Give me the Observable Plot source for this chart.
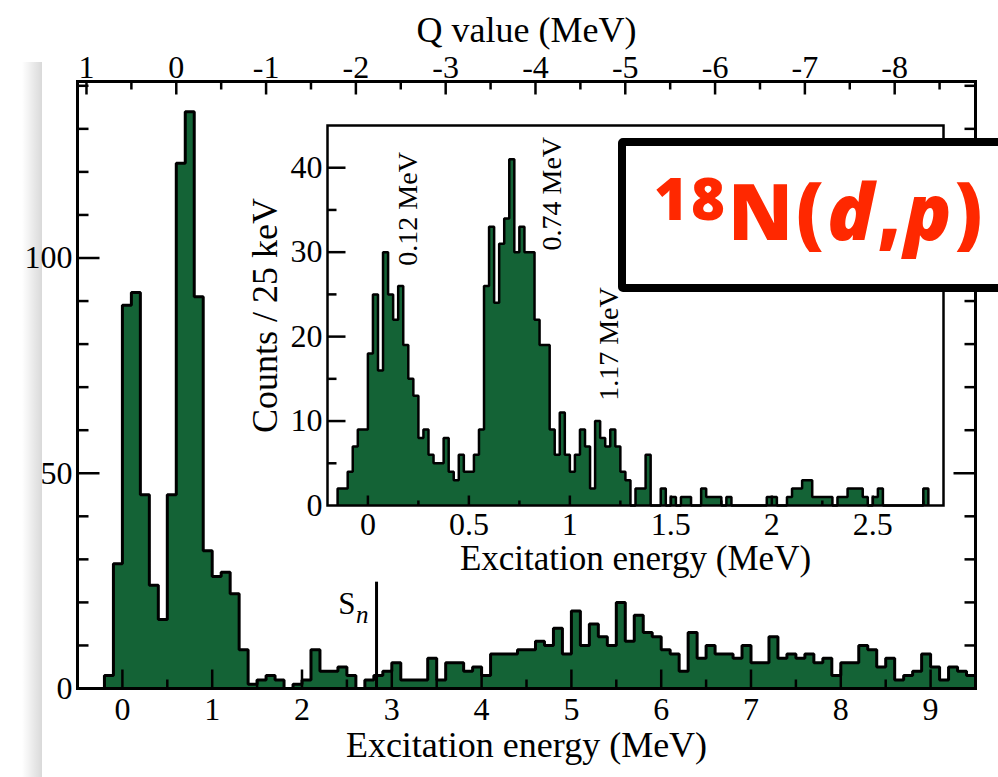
<!DOCTYPE html>
<html><head><meta charset="utf-8">
<script src="https://cdn.jsdelivr.net/npm/d3@7"></script>
<script src="https://cdn.jsdelivr.net/npm/@observablehq/plot@0.6"></script>
<style>
html,body{margin:0;padding:0;background:#fff;overflow:hidden;}
#wrap{position:relative;width:998px;height:777px;overflow:hidden;}
#shadow{position:absolute;left:22px;top:62px;width:20px;height:715px;background:linear-gradient(to right, rgba(0,0,0,0), rgba(0,0,0,0.15));}
#main{position:absolute;left:0;top:0;width:998px;height:777px;}
#inset{position:absolute;left:220px;top:100px;width:740px;height:480px;}
#tag{position:absolute;left:618px;top:138px;width:420px;height:154px;box-sizing:border-box;border:8px solid #000;border-radius:5px;background:#fff;}
#tagtext{position:absolute;left:28px;top:13px;font-family:"Open Sans",Lato,sans-serif;font-weight:800;font-size:78px;line-height:78px;letter-spacing:3px;color:#ff2800;white-space:nowrap;}
</style></head><body>
<div id="wrap">
<div id="shadow"></div>
<div id="main"></div>
<div id="inset"></div>
<div id="tag"><div id="tagtext"><span style="font-size:58px;vertical-align:20px">18</span>N(<i>d</i>,<i>p</i>)</div></div>
</div>
<script>
// ---------- data ----------
// main spectrum: 100 keV bins starting at -0.2 MeV
const mainBinStart = -0.2;
const mainBinWidth = 0.1;
const mainCounts = [3,29,89,92,45,24,16,45,122,134,
  91,32,26,27,22,9,1,2,3,2,
  0,1,2,9,4,4,5,3,0,2,
  3,4,6,2,2,2,7,2,6,6,
  4,5,3,8,8,8,9,9,11,10,
  14,8,18,10,15,12,10,20,11,17,
  13,12,9,8,4,13,7,10,8,8,
  7,10,6,6,12,7,8,7,8,6,
  7,3,6,6,10,9,5,7,2,3,
  4,8,5,2,5,4,3];
// inset spectrum: 25 keV bins starting at -0.15 MeV
const insetBinStart = -0.15;
const insetBinWidth = 0.025;
const insetCounts = [2,2,4,7,9,9,18,25,16,30,
  25,22,26,19,15,13,8,9,6,5,
  5,8,4,3,6,4,4,6,9,26,
  33,24,31,34,41,30,33,30,30,22,
  19,19,9,6,11,6,4,6,9,7,
  2,10,8,7,9,7,4,3,0,2,
  2,6,0,0,2,0,1,0,1,1,
  0,0,2,1,1,1,0,1,0,0,
  0,0,0,0,0,1,1,0,0,1,
  2,2,3,3,1,1,1,1,0,1,
  1,2,2,2,1,0,1,2,0,0,
  0,0,0,0,0,0,2];

// axes / ticks
const mainXDomain = [-0.5, 9.5];
const mainYDomain = [0, 141];
const mainXMajor = [0,1,2,3,4,5,6,7,8,9];
const mainXMinor = [0.5,1.5,2.5,3.5,4.5,5.5,6.5,7.5,8.5];
const mainYMajor = [0,50,100];
const mainYMajorTicks = [50,100];
const mainYMinor = [10,20,30,40,60,70,80,90,110,120,130,140];
const qOffset = 0.6; // Q = qOffset - Ex
const qMajor = [1,0,-1,-2,-3,-4,-5,-6,-7,-8];
const qMinor = [0.5,-0.5,-1.5,-2.5,-3.5,-4.5,-5.5,-6.5,-7.5,-8.5];

const insetXDomain = [-0.2, 2.85];
const insetYDomain = [0, 45];
const insetXMajor = [0,0.5,1,1.5,2,2.5];
const insetXMinor = [0.25,0.75,1.25,1.75,2.25,2.75];
const insetYMajor = [0,10,20,30,40];
const insetYMajorTicks = [10,20,30,40];
const insetYMinor = [5,15,25,35];

// annotations
const peakLabels = ["0.12 MeV","0.74 MeV","1.17 MeV"];
const peakLabelX = [0.20, 0.912, 1.195];
const peakLabelY = [28.4, 30.2, 12.4];
const snEnergy = 2.83;
const snTop = 24.7;
const snLabelY = 17.4;
const snSubY = 15.3;

const mainXTitle = "Excitation energy (MeV)";
const qTitle = "Q value (MeV)";
const insetXTitle = "Excitation energy (MeV)";
const insetYTitle = "Counts / 25 keV";

// ---------- helpers ----------
const green = "#146336";
const serif = '"Liberation Serif","Times New Roman",serif';
const tickFont = 32;
function bins(start, width, counts) {
  return counts.map((c, i) => ({x1: start + i * width, x2: start + (i + 1) * width, y: c}));
}
function outline(b) {
  const pts = [{x: b[0].x1, y: 0}];
  b.forEach(d => pts.push({x: d.x1, y: d.y}));
  pts.push({x: b[b.length - 1].x2, y: 0});
  return pts;
}
const tickShape = {draw(ctx, l) { ctx.moveTo(0, 0); ctx.lineTo(0, -l); }};
function ticks(values, side, len, sw) {
  const o = {frameAnchor: side, length: len, anchor: "start", shape: tickShape, stroke: "#000", strokeWidth: sw, strokeLinecap: "butt"};
  if (side === "left")   return Plot.vector(values, {...o, y: d => d, rotate: 90});
  if (side === "right")  return Plot.vector(values, {...o, y: d => d, rotate: -90});
  if (side === "bottom") return Plot.vector(values, {...o, x: d => d, rotate: 0});
  return Plot.vector(values, {...o, x: d => d, rotate: 180});
}

// ---------- main plot ----------
const mb = bins(mainBinStart, mainBinWidth, mainCounts);
const mo = outline(mb);
const main = Plot.plot({
  width: 998, height: 777,
  marginTop: 81, marginRight: 23, marginBottom: 89, marginLeft: 77,
  x: {domain: mainXDomain},
  y: {domain: mainYDomain},
  style: {fontFamily: serif, fontSize: tickFont + "px", color: "#000", background: "transparent", overflow: "visible"},
  marks: [
    Plot.areaY(mo, {x: "x", y: "y", curve: "step-after", fill: green}),
    Plot.line(mo, {x: "x", y: "y", curve: "step-after", stroke: "#000", strokeWidth: 3, strokeLinejoin: "miter", strokeLinecap: "butt"}),
    Plot.ruleX([snEnergy], {y1: 0, y2: snTop, stroke: "#000", strokeWidth: 3}),
    Plot.text(["S"], {x: snEnergy, y: snLabelY, dx: -21, textAnchor: "end", lineAnchor: "bottom", fontSize: 31}),
    Plot.text(["n"], {x: snEnergy, y: snSubY, dx: -8, textAnchor: "end", lineAnchor: "bottom", fontSize: 25, fontStyle: "italic"}),
    ticks(mainYMajorTicks, "left", 22, 2.5),
    ticks(mainYMinor, "left", 11, 2.5),
    ticks(mainYMajorTicks, "right", 22, 2.5),
    ticks(mainYMinor, "right", 11, 2.5),
    ticks(mainXMajor, "bottom", 19, 2.5),
    ticks(mainXMinor, "bottom", 9, 2.5),
    ticks(qMajor.map(q => qOffset - q), "top", 13, 2.5),
    ticks(qMinor.map(q => qOffset - q), "top", 8, 2.5),
    Plot.axisX({ticks: mainXMajor, tickSize: 0, tickPadding: 9, label: null, fontSize: tickFont, tickFormat: d => String(d)}),
    Plot.axisX({anchor: "top", ticks: qMajor.map(q => qOffset - q), tickSize: 0, tickPadding: 4, label: null, fontSize: tickFont,
      tickFormat: d => String(Math.round(qOffset - d))}),
    Plot.axisY({ticks: mainYMajor, tickSize: 0, tickPadding: 5, label: null, fontSize: tickFont}),
    Plot.text([mainXTitle], {frameAnchor: "bottom", dy: 57, lineAnchor: "middle", textAnchor: "middle", fontSize: 36}),
    Plot.text([qTitle], {frameAnchor: "top", dy: -51, lineAnchor: "middle", textAnchor: "middle", fontSize: 36}),
    Plot.frame({stroke: "#000", strokeWidth: 3})
  ]
});
document.getElementById("main").appendChild(main);

// ---------- inset ----------
const ib = bins(insetBinStart, insetBinWidth, insetCounts);
const io = outline(ib);
const peaks = peakLabels.map((t, i) => ({t, x: peakLabelX[i], y: peakLabelY[i]}));
const inset = Plot.plot({
  width: 740, height: 480,
  marginTop: 25, marginRight: 17, marginBottom: 75, marginLeft: 107,
  x: {domain: insetXDomain},
  y: {domain: insetYDomain},
  style: {fontFamily: serif, fontSize: tickFont + "px", color: "#000", background: "transparent", overflow: "visible"},
  marks: [
    Plot.frame({fill: "#fff"}),
    Plot.areaY(io, {x: "x", y: "y", curve: "step-after", fill: green}),
    Plot.line(io, {x: "x", y: "y", curve: "step-after", stroke: "#000", strokeWidth: 2.5, strokeLinejoin: "miter", strokeLinecap: "butt"}),
    Plot.text(peaks, {x: "x", y: "y", text: "t", rotate: -90, textAnchor: "start", lineAnchor: "middle", fontSize: 28}),
    ticks(insetYMajorTicks, "left", 18, 2.5),
    ticks(insetYMinor, "left", 9, 2.5),
    ticks(insetXMajor, "bottom", 10, 2.5),
    ticks(insetXMinor, "bottom", 5, 2.5),
    Plot.axisX({ticks: insetXMajor, tickSize: 0, tickPadding: 7, label: null, fontSize: tickFont, tickFormat: d => String(d)}),
    Plot.axisY({ticks: insetYMajor, tickSize: 0, tickPadding: 5, label: null, fontSize: tickFont}),
    Plot.text([insetXTitle], {frameAnchor: "bottom", dy: 53, lineAnchor: "middle", textAnchor: "middle", fontSize: 35}),
    Plot.text([insetYTitle], {frameAnchor: "left", dx: -62, rotate: -90, lineAnchor: "middle", textAnchor: "middle", fontSize: 36}),
    Plot.frame({stroke: "#000", strokeWidth: 2.5})
  ]
});
document.getElementById("inset").appendChild(inset);
</script>
</body></html>
